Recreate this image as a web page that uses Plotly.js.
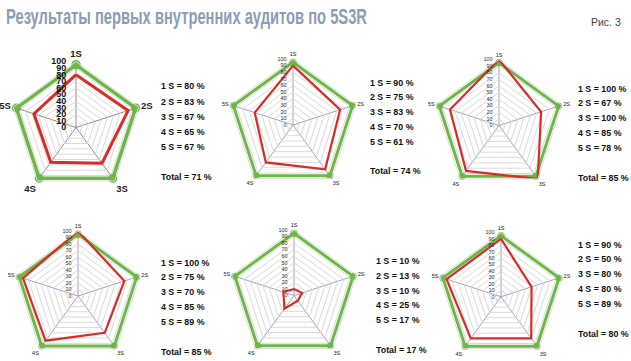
<!DOCTYPE html>
<html><head><meta charset="utf-8">
<script src="https://cdn.plot.ly/plotly-3.0.1.min.js"></script>
<style>html,body{margin:0;padding:0;background:#fff}#c{width:631px;height:361px}</style>
</head><body><div id="c"></div>
<script>
// ---- data ----
const categories = ['1S','2S','3S','4S','5S'];
const radialTicks = [0,10,20,30,40,50,60,70,80,90,100];
const target = [95,95,95,95,95];
const audit1 = [80,83,67,65,67];
const audit2 = [90,75,83,70,61];
const audit3 = [100,67,100,85,78];
const audit4 = [100,75,70,85,89];
const audit5 = [10,13,10,25,17];
const audit6 = [90,50,80,80,89];
const totals = [71,74,85,85,17,80];
const titleText = 'Результаты первых внутренних аудитов по 5S3R';
const figText = 'Рис. 3';

const audits = [audit1,audit2,audit3,audit4,audit5,audit6];
// ---- layout positions (pixels) ----
const W=631,H=361,R=66;
const centers=[[76,127.5],[293,125],[499,125.5],[78,297],[294,296],[501,298.5]];
const textPos=[[159,86,15],[368,82,14.8],[576,88,14.8],[159,262,14.8],[374,260.5,14.8],[576,244,14.8]];
const totalY=[176,171,177,351,349.5,333];

const base='Liberation Sans, Arial, sans-serif';
const cvs=document.createElement('canvas').getContext('2d');
function measure(txt,px,bold){cvs.font=(bold?'bold ':'')+px+'px "Liberation Sans", Arial, sans-serif';return cvs.measureText(txt).width;}
const STAT_SIZE=9.5, STAT_SQUEEZE=0.93;

const close=a=>a.concat([a[0]]);
const catsC=close(categories);
const traces=[],layout={width:W,height:H,margin:{l:0,r:0,t:0,b:0},showlegend:false,
  paper_bgcolor:'#fff',font:{family:base,color:'#000'},annotations:[]};
const squeeze=[]; // target text lengths, per annotation index

function addStat(x,y,txt){
  const w=measure(txt,STAT_SIZE,true)*STAT_SQUEEZE;
  layout.annotations.push({xref:'paper',yref:'paper',x:x/W,y:1-y/H,xanchor:'left',yanchor:'middle',align:'left',
    showarrow:false,text:txt,font:{family:base,size:STAT_SIZE,color:'#111',weight:'bold'}});
  squeeze.push(w);
}

audits.forEach((vals,i)=>{
  const pid = i===0?'polar':'polar'+(i+1);
  const [cx,cy]=centers[i];
  const big = i===0;
  layout[pid]={
    domain:{x:[(cx-R)/W,(cx+R)/W],y:[1-(cy+R)/H,1-(cy-R)/H]},
    gridshape:'linear',bgcolor:'rgba(0,0,0,0)',
    radialaxis:{range:[0,100],tickvals:radialTicks,angle:90,side:'counterclockwise',
      showline:false,gridcolor:'#dadada',gridwidth:1,ticks:'outside',ticklen:big?6:4,tickcolor:'rgba(0,0,0,0)',tickangle:90,
      tickfont:{size:big?9:5.5,family:base,color:big?'#111':'#333',weight:big?'bold':'normal'}},
    angularaxis:{rotation:90,direction:'clockwise',showline:true,linecolor:'#dcdcdc',linewidth:1,
      gridcolor:big?'#8a8a8a':'#a99fc0',gridwidth:1,ticks:'',
      tickfont:{size:big?9.5:5.5,family:base,color:'#222',weight:big?'bold':'normal'}}
  };
  traces.push({type:'scatterpolar',subplot:pid,r:close(target),theta:catsC,mode:'lines+markers',
    line:{color:'#6db745',width:big?3.5:3},marker:{color:'#6db745',size:big?9:7},hoverinfo:'skip'});
  traces.push({type:'scatterpolar',subplot:pid,r:close(vals),theta:catsC,mode:'lines',
    line:{color:'#dd2a26',width:big?3:2.2},hoverinfo:'skip'});
  const [tx,ty,dy]=textPos[i];
  vals.forEach((v,k)=>addStat(tx,ty+k*dy,(k+1)+' S = '+v+' %'));
  addStat(tx,totalY[i],'Total = '+totals[i]+' %');
});
layout.annotations.push({xref:'paper',yref:'paper',x:4/W,y:1-16/H,xanchor:'left',yanchor:'middle',align:'left',showarrow:false,
  text:titleText,font:{family:base,size:22,color:'#8d9cb6',weight:'bold'}});
squeeze.push(361);
layout.annotations.push({xref:'paper',yref:'paper',x:623/W,y:1-22/H,xanchor:'right',yanchor:'middle',showarrow:false,
  text:figText,font:{family:base,size:10.5,color:'#444'}});
squeeze.push(null);

Plotly.newPlot('c',traces,layout,{staticPlot:true}).then(gd=>{
  // condense annotation glyphs (narrow typeface look)
  gd.querySelectorAll('.annotation').forEach((g,idx)=>{
    const L=squeeze[idx]; if(!L) return;
    const t=g.querySelector('text.annotation-text'); if(!t) return;
    t.setAttribute('lengthAdjust','spacingAndGlyphs');
    t.setAttribute('textLength',L.toFixed(1));
  });
});
</script></body></html>
